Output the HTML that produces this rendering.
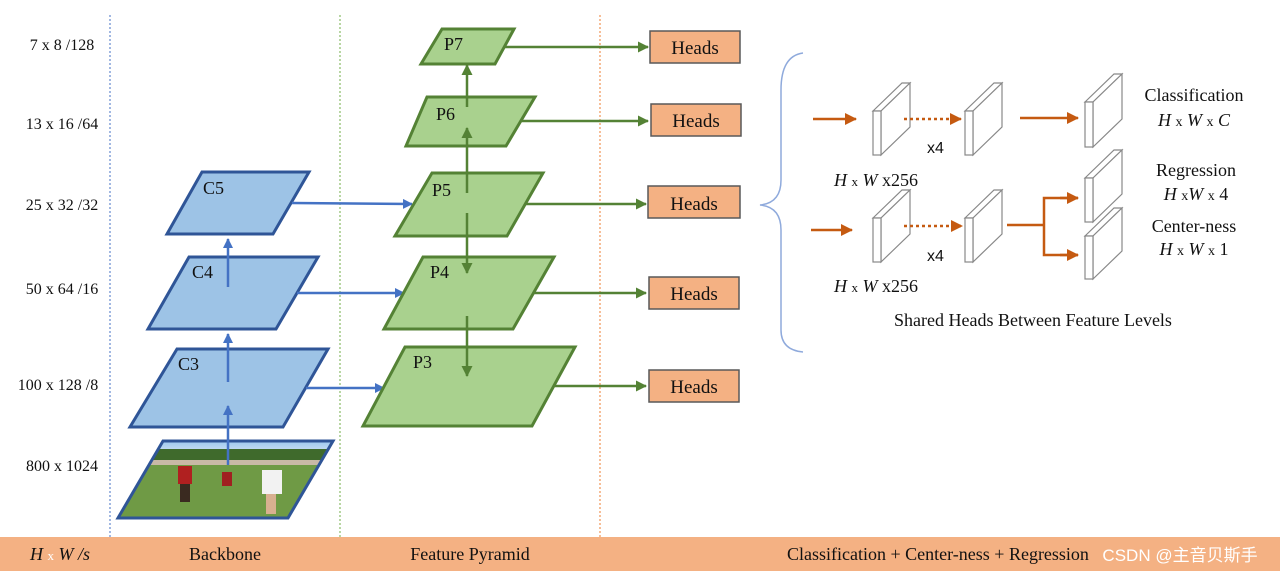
<!DOCTYPE html>
<html><head><meta charset="utf-8"><style>
body{margin:0;background:#fff;width:1280px;height:580px;overflow:hidden}
svg text{font-family:"Liberation Serif",serif;fill:#111}
</style></head><body>
<svg width="1280" height="580" viewBox="0 0 1280 580" xmlns="http://www.w3.org/2000/svg">
<defs>
<marker id="ab" markerWidth="10" markerHeight="10" refX="9" refY="5" orient="auto" markerUnits="userSpaceOnUse" viewBox="0 0 10 10"><path d="M0,0 L10,5 L0,10z" fill="#4472c4"/></marker>
<marker id="ag" markerWidth="11" markerHeight="11" refX="10" refY="5.5" orient="auto" markerUnits="userSpaceOnUse" viewBox="0 0 11 11"><path d="M0,0 L11,5.5 L0,11z" fill="#548235"/></marker>
<marker id="ao" markerWidth="12" markerHeight="12" refX="11" refY="6" orient="auto" markerUnits="userSpaceOnUse" viewBox="0 0 12 12"><path d="M0,0 L12,6 L0,12z" fill="#c55a11"/></marker>
<clipPath id="imgc"><polygon points="163,441 333,441 288,518 118,518"/></clipPath>
<linearGradient id="sky" x1="0" y1="0" x2="0" y2="1"><stop offset="0" stop-color="#9cc8ef"/><stop offset="1" stop-color="#c7def2"/></linearGradient>
</defs>
<line x1="110" y1="15" x2="110" y2="537" stroke="#4472c4" stroke-width="1" stroke-dasharray="2,2"/>
<line x1="340" y1="15" x2="340" y2="537" stroke="#70ad47" stroke-width="1" stroke-dasharray="2,2"/>
<line x1="600" y1="15" x2="600" y2="537" stroke="#ed7d31" stroke-width="1" stroke-dasharray="2,2"/>
<rect x="0" y="537" width="1280" height="34" fill="#f4b183"/>
<text x="60" y="560" font-size="18" text-anchor="middle" font-style="italic">H <tspan font-style="normal" fill="#fff" font-size="13">x</tspan> W /s</text>
<text x="225" y="560" font-size="18" text-anchor="middle">Backbone</text>
<text x="470" y="560" font-size="18" text-anchor="middle">Feature Pyramid</text>
<text x="938" y="560" font-size="18" text-anchor="middle">Classification + Center-ness + Regression</text>
<text x="1180" y="561" font-size="17" text-anchor="middle" style="fill:#fff;font-family:'Liberation Sans','Noto Sans CJK SC',sans-serif">CSDN @主音贝斯手</text>
<g font-size="16" text-anchor="middle">
<text x="62" y="50">7 x 8 /128</text>
<text x="62" y="129">13 x 16 /64</text>
<text x="62" y="210">25 x 32 /32</text>
<text x="62" y="294">50 x 64 /16</text>
<text x="58" y="390">100 x 128 /8</text>
<text x="62" y="471">800 x 1024</text>
</g>
<g clip-path="url(#imgc)">
<rect x="110" y="441" width="230" height="10" fill="url(#sky)"/>
<rect x="110" y="449" width="230" height="14" fill="#3f6a2c"/>
<rect x="110" y="460" width="230" height="6" fill="#c9b9a6"/>
<rect x="110" y="465" width="230" height="55" fill="#6f9a45"/>
<rect x="178" y="466" width="14" height="18" fill="#b02020"/>
<rect x="180" y="484" width="10" height="18" fill="#3a2a20"/>
<rect x="222" y="472" width="10" height="14" fill="#a02020"/>
<rect x="262" y="470" width="20" height="24" fill="#f2f2f2"/>
<rect x="266" y="494" width="10" height="20" fill="#d8b090"/>
</g>
<polygon points="163,441 333,441 288,518 118,518" fill="none" stroke="#2f5597" stroke-width="3"/>
<g fill="#9dc3e6" stroke="#2f5597" stroke-width="3">
<polygon points="202,172 309,172 273,234 167,234"/>
<polygon points="189,257 318,257 276,329 148,329"/>
<polygon points="177,349 328,349 283,427 130,427"/>
</g>
<g font-size="18"><text x="203" y="194">C5</text><text x="192" y="278">C4</text><text x="178" y="370">C3</text></g>
<g stroke="#4472c4" stroke-width="2.5" fill="none" marker-end="url(#ab)">
<line x1="228" y1="465" x2="228" y2="406"/>
<line x1="228" y1="382" x2="228" y2="334"/>
<line x1="228" y1="287" x2="228" y2="239"/>
<line x1="292" y1="203" x2="412" y2="204"/>
<line x1="297" y1="293" x2="404" y2="293"/>
<line x1="306" y1="388" x2="384" y2="388"/>
</g>
<g fill="#a9d18e" stroke="#548235" stroke-width="3">
<polygon points="442,29 514,29 495,64 421,64"/>
<polygon points="427,97 535,97 506,146 406,146"/>
<polygon points="432,173 543,173 507,236 395,236"/>
<polygon points="423,257 554,257 513,329 384,329"/>
<polygon points="405,347 575,347 532,426 363,426"/>
</g>
<g font-size="18"><text x="444" y="50">P7</text><text x="436" y="120">P6</text><text x="432" y="196">P5</text><text x="430" y="278">P4</text><text x="413" y="368">P3</text></g>
<g stroke="#548235" stroke-width="2.5" fill="none" marker-end="url(#ag)">
<line x1="467" y1="193" x2="467" y2="128"/>
<line x1="467" y1="107" x2="467" y2="65"/>
<line x1="467" y1="213" x2="467" y2="273"/>
<line x1="467" y1="316" x2="467" y2="376"/>
<line x1="505" y1="47" x2="648" y2="47"/>
<line x1="520" y1="121" x2="648" y2="121"/>
<line x1="525" y1="204" x2="646" y2="204"/>
<line x1="534" y1="293" x2="646" y2="293"/>
<line x1="553" y1="386" x2="646" y2="386"/>
</g>
<g fill="#f4b183" stroke="#595959" stroke-width="1.5">
<rect x="650" y="31" width="90" height="32"/>
<rect x="651" y="104" width="90" height="32"/>
<rect x="648" y="186" width="92" height="32"/>
<rect x="649" y="277" width="90" height="32"/>
<rect x="649" y="370" width="90" height="32"/>
</g>
<g font-size="19" text-anchor="middle">
<text x="695" y="54">Heads</text><text x="696" y="127">Heads</text><text x="694" y="210">Heads</text><text x="694" y="300">Heads</text><text x="694" y="393">Heads</text>
</g>
<path d="M803,53 Q781,56 781,90 L781,180 Q781,203 760,205 Q781,207 781,230 L781,330 Q781,350 803,352" fill="none" stroke="#8faadc" stroke-width="1.5"/>
<g fill="#fff" stroke="#888" stroke-width="1.2">
<polygon points="873,111 902,83 910,83 881,111"/><polygon points="881,111 910,83 910,127 881,155"/><rect x="873" y="111" width="8" height="44"/>
<polygon points="965,111 994,83 1002,83 973,111"/><polygon points="973,111 1002,83 1002,127 973,155"/><rect x="965" y="111" width="8" height="44"/>
<polygon points="1085,102 1114,74 1122,74 1093,102"/><polygon points="1093,102 1122,74 1122,119 1093,147"/><rect x="1085" y="102" width="8" height="45"/>
<polygon points="873,218 902,190 910,190 881,218"/><polygon points="881,218 910,190 910,234 881,262"/><rect x="873" y="218" width="8" height="44"/>
<polygon points="965,218 994,190 1002,190 973,218"/><polygon points="973,218 1002,190 1002,234 973,262"/><rect x="965" y="218" width="8" height="44"/>
<polygon points="1085,178 1114,150 1122,150 1093,178"/><polygon points="1093,178 1122,150 1122,194 1093,222"/><rect x="1085" y="178" width="8" height="44"/>
<polygon points="1085,236 1114,208 1122,208 1093,236"/><polygon points="1093,236 1122,208 1122,251 1093,279"/><rect x="1085" y="236" width="8" height="43"/>
</g>
<g stroke="#c55a11" stroke-width="2.5" fill="none">
<line x1="813" y1="119" x2="856" y2="119" marker-end="url(#ao)"/>
<line x1="904" y1="119" x2="961" y2="119" stroke-dasharray="3,3" marker-end="url(#ao)"/>
<line x1="1020" y1="118" x2="1078" y2="118" marker-end="url(#ao)"/>
<line x1="811" y1="230" x2="852" y2="230" marker-end="url(#ao)"/>
<line x1="904" y1="226" x2="962" y2="226" stroke-dasharray="3,3" marker-end="url(#ao)"/>
<line x1="1007" y1="225" x2="1044" y2="225"/>
<path d="M1078,198 L1044,198 L1044,255 L1078,255"/>
<line x1="1060" y1="198" x2="1078" y2="198" marker-end="url(#ao)"/>
<line x1="1060" y1="255" x2="1078" y2="255" marker-end="url(#ao)"/>
</g>
<g font-size="18">
<text x="927" y="153" style="font-family:'Liberation Sans',sans-serif" font-size="16">x4</text>
<text x="927" y="261" style="font-family:'Liberation Sans',sans-serif" font-size="16">x4</text>
<text x="834" y="186"><tspan font-style="italic">H</tspan> <tspan font-size="13">x</tspan> <tspan font-style="italic">W</tspan> x256</text>
<text x="834" y="292"><tspan font-style="italic">H</tspan> <tspan font-size="13">x</tspan> <tspan font-style="italic">W</tspan> x256</text>
<text x="1194" y="101" text-anchor="middle">Classification</text>
<text x="1194" y="126" text-anchor="middle" font-style="italic">H <tspan font-style="normal" font-size="14">x</tspan> W <tspan font-style="normal" font-size="14">x</tspan> C</text>
<text x="1196" y="176" text-anchor="middle">Regression</text>
<text x="1196" y="200" text-anchor="middle"><tspan font-style="italic">H</tspan> <tspan font-size="14">x</tspan><tspan font-style="italic">W</tspan> <tspan font-size="14">x</tspan> 4</text>
<text x="1194" y="232" text-anchor="middle">Center-ness</text>
<text x="1194" y="255" text-anchor="middle"><tspan font-style="italic">H</tspan> <tspan font-size="14">x</tspan> <tspan font-style="italic">W</tspan> <tspan font-size="14">x</tspan> 1</text>
<text x="1033" y="326" text-anchor="middle">Shared Heads Between Feature Levels</text>
</g>
</svg>
</body></html>
